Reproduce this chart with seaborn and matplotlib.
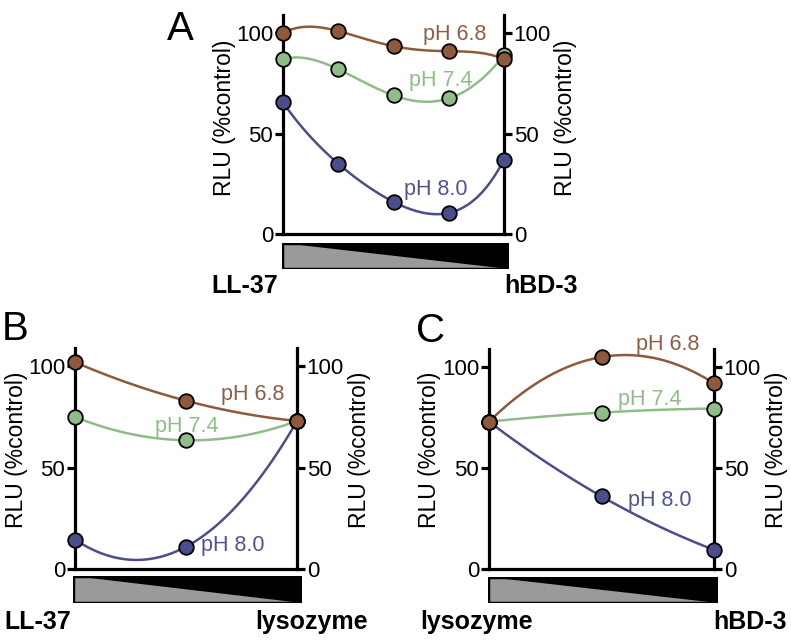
import numpy as np
import seaborn as sns
import matplotlib.pyplot as plt
from matplotlib.patches import Polygon, Rectangle

# mixing steps (left peptide -> right peptide)
steps_a = [0, 1, 2, 3, 4]
steps_bc = [0, 1, 2]

# panel A: LL-37 -> hBD-3
a_ph68 = [100, 101, 93.5, 91, 87]
a_ph74 = [87, 82, 69, 67.5, 89]
a_ph80 = [65.5, 35, 16, 10.5, 37]

# panel B: LL-37 -> lysozyme
b_ph68 = [102, 83, 73]
b_ph74 = [75, 63.5, 73]
b_ph80 = [14.5, 11, 73]

# panel C: lysozyme -> hBD-3
c_ph68 = [73, 105, 92]
c_ph74 = [73, 77.5, 79.5]
c_ph80 = [73, 36, 9.5]

ph_labels = ['pH 8.0', 'pH 7.4', 'pH 6.8']
y_ticks = [0, 50, 100]

colors = {'pH 6.8': '#8e5a3b', 'pH 7.4': '#8fbd87', 'pH 8.0': '#4a4e8a'}
text_colors = {'pH 6.8': '#8e5f45', 'pH 7.4': '#8fbd87', 'pH 8.0': '#50548e'}

W, H = 791, 641

sns.set_style('ticks')
plt.rcParams['font.family'] = ['Liberation Sans', 'DejaVu Sans']
plt.rcParams['text.color'] = 'black'
plt.rcParams['axes.edgecolor'] = 'black'
plt.rcParams['ytick.color'] = 'black'
plt.rcParams['xtick.color'] = 'black'

fig = plt.figure(figsize=(W / 100, H / 100), dpi=100)


def px_rect(left, top, right, bottom):
    return [left / W, (H - bottom) / H, (right - left) / W, (bottom - top) / H]


def draw_panel(box, steps, series, label_pos, ylab_y):
    ax = fig.add_axes(px_rect(*box))
    order = len(steps) - 1
    for name, vals in zip(ph_labels, series):
        sns.regplot(x=steps, y=vals, order=order, ci=None, scatter=False, truncate=True,
                    line_kws={'color': colors[name], 'lw': 1.8, 'zorder': 3}, ax=ax)
        sns.scatterplot(x=steps, y=vals, color=colors[name], s=110, edgecolor='black',
                        linewidth=1.3, zorder=5, clip_on=False, legend=False, ax=ax)
        tx, ty = label_pos[name]
        ax.text(tx, ty, name, color=text_colors[name], fontsize=15.5, ha='center', va='center')
    ax.set_xlim(steps[0], steps[-1])
    ax.set_ylim(0, 109)
    ax.set_yticks(y_ticks)
    ax.set_xticks([])
    ax.set_xlabel('')
    ax.set_ylabel('')
    ax.spines['top'].set_visible(False)
    for s in ['left', 'right', 'bottom']:
        ax.spines[s].set_visible(True)
        ax.spines[s].set_linewidth(2.3)
        ax.spines[s].set_color('black')
    ax.tick_params(axis='y', left=True, right=True, labelleft=True, labelright=True,
                   direction='out', length=6, width=2.3, pad=1, labelsize=16, colors='black')
    ax.text(-0.265, ylab_y, 'RLU (%control)', rotation=90, fontsize=16.5,
            ha='center', va='center', transform=ax.transAxes)
    ax.text(1.28, ylab_y, 'RLU (%control)', rotation=90, fontsize=16.5,
            ha='center', va='center', transform=ax.transAxes)
    return ax


def draw_bar(box):
    bx = fig.add_axes(px_rect(*box))
    bx.set_xlim(0, 1)
    bx.set_ylim(0, 1)
    bx.add_patch(Rectangle((0, 0), 1, 1, facecolor='black', edgecolor='none'))
    bx.add_patch(Polygon([(0, 0), (0, 1), (1, 0)], closed=True, facecolor='#9a9a9a', edgecolor='none'))
    bx.add_patch(Rectangle((0, 0), 1, 1, facecolor='none', edgecolor='black', lw=2.5))
    bx.axis('off')


def fig_text(x, y, s, **kw):
    fig.text(x / W, 1 - y / H, s, ha='center', va='center', **kw)


# panel A
draw_panel((283, 15, 504, 234), steps_a, [a_ph80, a_ph74, a_ph68],
           {'pH 6.8': (3.11, 99.5), 'pH 7.4': (2.86, 76.5), 'pH 8.0': (2.77, 22)}, 0.53)
draw_bar((282, 243, 509, 269))
fig_text(245, 286, 'LL-37', fontsize=18, fontweight='bold')
fig_text(541, 286, 'hBD-3', fontsize=18, fontweight='bold')
fig_text(180, 29, 'A', fontsize=29)

# panel B
draw_panel((75, 348, 297, 569), steps_bc, [b_ph80, b_ph74, b_ph68],
           {'pH 6.8': (1.60, 86), 'pH 7.4': (1.01, 70.5), 'pH 8.0': (1.42, 11.5)}, 0.54)
draw_bar((73, 576, 302, 603))
fig_text(38, 622, 'LL-37', fontsize=18, fontweight='bold')
fig_text(312, 622, 'lysozyme', fontsize=18, fontweight='bold')
fig_text(15, 329, 'B', fontsize=29)

# panel C
draw_panel((489, 349, 714, 569), steps_bc, [c_ph80, c_ph74, c_ph68],
           {'pH 6.8': (1.59, 111), 'pH 7.4': (1.43, 84), 'pH 8.0': (1.52, 34)}, 0.54)
draw_bar((488, 577, 718, 603))
fig_text(477, 622, 'lysozyme', fontsize=18, fontweight='bold')
fig_text(750, 622, 'hBD-3', fontsize=18, fontweight='bold')
fig_text(431, 331, 'C', fontsize=29)

fig.savefig('out.png', dpi=100)
